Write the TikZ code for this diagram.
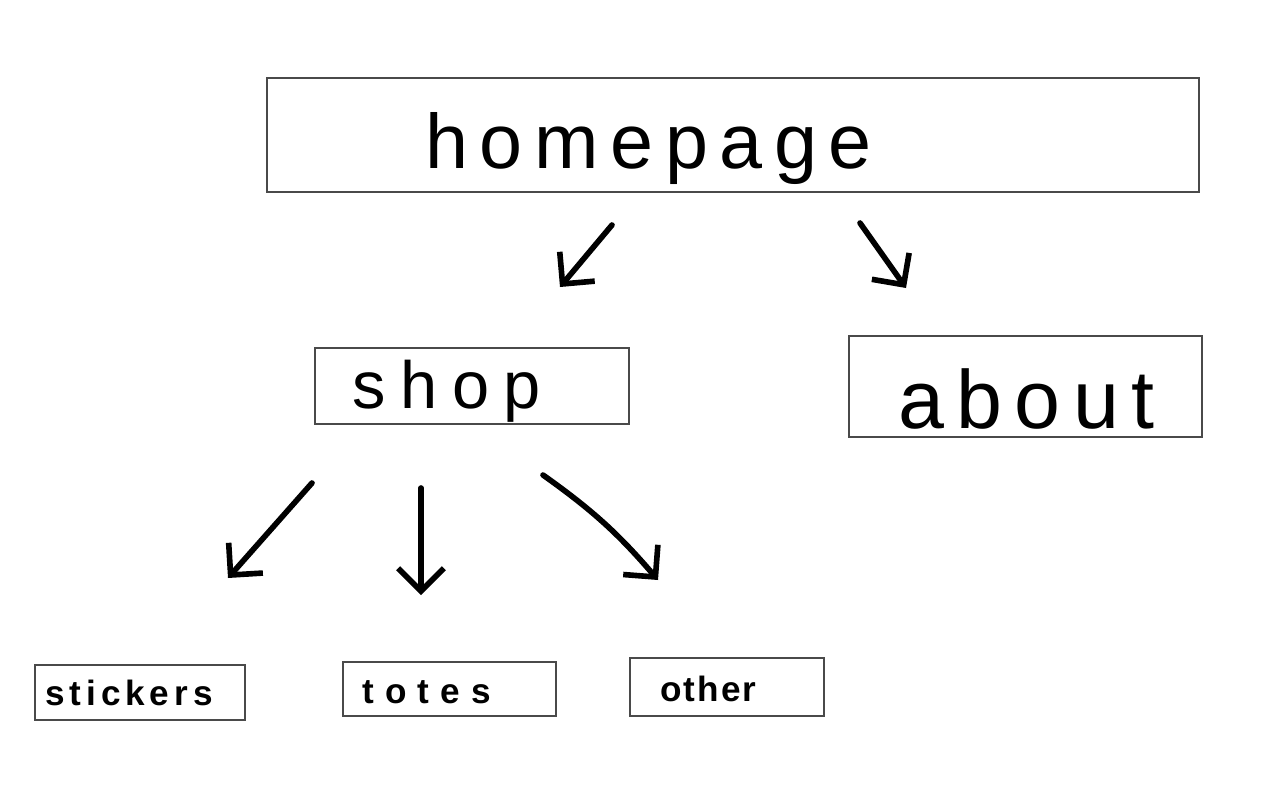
\documentclass[tikz,border=0pt]{standalone}
\usepackage{fontspec}
\setmainfont{Liberation Sans}
\usetikzlibrary{arrows.meta}
\definecolor{boxgray}{HTML}{4A4A4A}
\tikzset{
  box/.style={draw=boxgray, line width=1.1pt, inner sep=0pt, fill=none},
  lbl/.style={anchor=base west, inner sep=0pt, text=black},
  conn/.style={line width=3.2pt, line cap=round, line join=round,
    -{Straight Barb[length=13pt, width=26pt, line width=3.2pt]}}
}
\begin{document}
\begin{tikzpicture}[x=0.02cm, y=-0.02cm]
\useasboundingbox (0,0) rectangle (1272,792);
% boxes
\node[box, minimum width=18.64cm, minimum height=2.28cm] (home) at (733,135) {};
\node[box, minimum width=6.28cm, minimum height=1.52cm] (shop) at (472,386) {};
\node[box, minimum width=7.06cm, minimum height=2.02cm] (about) at (1025.5,386.5) {};
\node[box, minimum width=4.2cm, minimum height=1.1cm] (stick) at (140,692.5) {};
\node[box, minimum width=4.26cm, minimum height=1.08cm] (totes) at (449.5,689) {};
\node[box, minimum width=3.88cm, minimum height=1.16cm] (other) at (727,687) {};
% labels
\node[lbl, font={\fontsize{44}{48}\selectfont\addfontfeatures{LetterSpace=15}}] (homet) at (425,168) {homepage};
\node[lbl, font={\fontsize{38}{42}\selectfont\addfontfeatures{LetterSpace=22}}] (shopt) at (352,408) {shop};
\node[lbl, font={\fontsize{47}{50}\selectfont\addfontfeatures{LetterSpace=15}}] (aboutt) at (898,428) {about};
\node[lbl, font={\bfseries\fontsize{20}{22}\selectfont\addfontfeatures{LetterSpace=14}}] (stickt) at (45,705) {stickers};
\node[lbl, font={\bfseries\fontsize{20}{22}\selectfont\addfontfeatures{LetterSpace=32}}] (totest) at (362,703) {totes};
\node[lbl, font={\bfseries\fontsize{20}{22}\selectfont\addfontfeatures{LetterSpace=6}}] (othert) at (660,701) {other};
% connector end points
\coordinate (hs1) at (612,225); \coordinate (hs2) at (560,287);
\coordinate (ha1) at (860,223); \coordinate (ha2) at (906,288);
\coordinate (ss1) at (312,483); \coordinate (ss2) at (228,578);
\coordinate (st1) at (421,488); \coordinate (st2) at (421,595);
\coordinate (so1) at (543,475); \coordinate (so2) at (658,580);
% connectors
\draw[conn] (hs1) -- (hs2);
\draw[conn] (ha1) -- (ha2);
\draw[conn] (ss1) -- (ss2);
\draw[conn] (st1) -- (st2);
\draw[conn] (so1) to[bend left=7] (so2);
\end{tikzpicture}
\end{document}
